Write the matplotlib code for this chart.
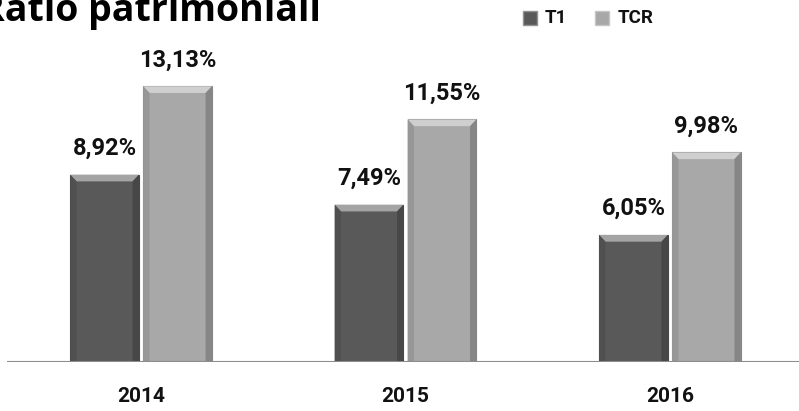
import numpy as np
import matplotlib.pyplot as plt
from matplotlib.patches import Polygon

plt.rcParams["font.family"] = ["Roboto", "DejaVu Sans"]

years = ["2014", "2015", "2016"]
t1 = [8.92, 7.49, 6.05]
tcr = [13.13, 11.55, 9.98]
series = [("T1", t1, "#595959"), ("TCR", tcr, "#a8a8a8")]


def shade(color, f):
    c = np.array(plt.matplotlib.colors.to_rgb(color))
    if f > 0:
        c = c + (1 - c) * f
    else:
        c = c * (1 + f)
    return tuple(np.clip(c, 0, 1))


def bevel_bar(ax, x, w, h, color, bx=0.024, by=0.32):
    # flat body
    ax.bar(x, h, width=w, color=color, edgecolor=shade(color, -0.2),
           linewidth=0.8, align="center", zorder=2)
    l, r = x - w / 2, x + w / 2
    faces = [
        ([(l, h), (r, h), (r - bx, h - by), (l + bx, h - by)], 0.45),   # top
        ([(l, 0), (l, h), (l + bx, h - by), (l + bx, 0)], -0.1),        # left
        ([(r, 0), (r, h), (r - bx, h - by), (r - bx, 0)], -0.2),        # right
    ]
    for pts, f in faces:
        ax.add_patch(Polygon(pts, closed=True, facecolor=shade(color, f),
                             edgecolor="none", zorder=3))


fig = plt.figure(figsize=(7.99, 4.11), dpi=100)
ax = fig.add_axes([7 / 799, 49 / 411, 792 / 799, 362 / 411])

x = np.arange(len(years))
w = 0.26
offs = [-0.138, 0.138]
for (name, vals, col), off in zip(series, offs):
    for xi, v in zip(x, vals):
        bevel_bar(ax, xi + off, w, v, col)
        ax.text(xi + off, v + 1.25, f"{v:.2f}%".replace(".", ","),
                ha="center", va="center", fontsize=17, fontweight="bold",
                color="#111111")

ax.set_xlim(-0.507, 2.488)
ax.set_ylim(0, 362 / 21.0)
ax.axhline(0, color="#8c8c8c", linewidth=1.5, zorder=4)
for s in ax.spines.values():
    s.set_visible(False)
ax.set_xticks([])
ax.set_yticks([])
for xi, yr in zip(x, years):
    ax.text(xi, -1.65, yr, ha="center", va="center", fontsize=15,
            fontweight="bold", color="#111111")

# title runs off the left edge
fig.text(321 / 799, 1 - 21 / 411, "Ratio patrimoniali", ha="right",
         va="baseline", fontsize=27, fontweight="bold",
         family=["Open Sans", "DejaVu Sans"], color="#000000")

# legend
for (name, vals, col), lx, tx in zip(series, [530, 602], [545, 618]):
    fig.patches.append(plt.Rectangle((lx / 799 - 7 / 799, 1 - 25 / 411),
                                     14 / 799, 14 / 411, transform=fig.transFigure,
                                     facecolor=col, edgecolor=shade(col, 0.35),
                                     linewidth=1.0))
    fig.text(tx / 799, 1 - 18 / 411, name, ha="left", va="center",
             fontsize=13.5, fontweight="bold", color="#111111")

fig.savefig("out.png", dpi=100)
